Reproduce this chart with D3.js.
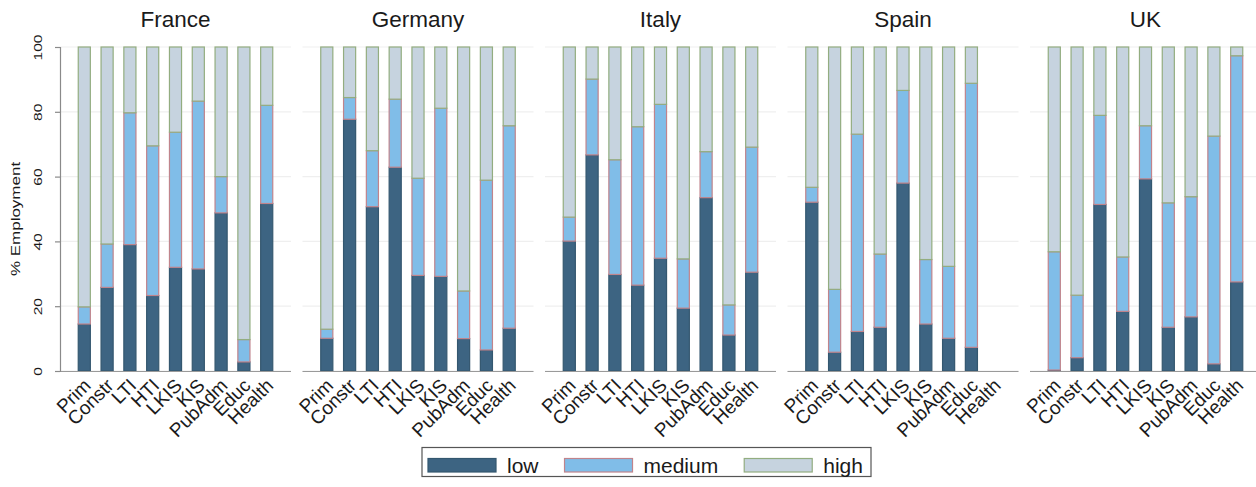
<!DOCTYPE html>
<html>
<head>
<meta charset="utf-8">
<script src="https://cdn.jsdelivr.net/npm/d3@7"></script>
<style>
  html, body { margin: 0; padding: 0; background: #fff; }
  svg { display: block; }
  text { font-family: "Liberation Sans", Arial, sans-serif; fill: #1a1a1a; }
</style>
</head>
<body>
<svg id="chart" width="1256" height="487"></svg>
<script>
const categories = ["Prim", "Constr", "LTI", "HTI", "LKIS", "KIS", "PubAdm", "Educ", "Health"];
const countries = ["France", "Germany", "Italy", "Spain", "UK"];
const levels = ["low", "medium", "high"];
const yTicks = [0, 20, 40, 60, 80, 100];

const lowFrance    = [14.5, 25.8, 39.0, 23.3, 32.0, 31.5, 48.8, 2.8, 51.7];
const mediumFrance = [5.3, 13.4, 40.7, 46.2, 41.7, 51.8, 11.2, 6.9, 30.3];
const highFrance   = [80.2, 60.8, 20.3, 30.5, 26.3, 16.7, 40.0, 90.3, 18.0];

const lowGermany    = [10.1, 77.7, 50.7, 62.9, 29.5, 29.2, 10.0, 6.5, 13.2];
const mediumGermany = [2.8, 6.7, 17.3, 21.0, 30.0, 51.9, 14.7, 52.4, 62.5];
const highGermany   = [87.1, 15.6, 32.0, 16.1, 40.5, 18.9, 75.3, 41.1, 24.3];

const lowItaly    = [40.1, 66.7, 29.8, 26.5, 34.8, 19.4, 53.5, 11.1, 30.5];
const mediumItaly = [7.4, 23.4, 35.4, 48.9, 47.5, 15.2, 14.2, 9.3, 38.6];
const highItaly   = [52.5, 9.9, 34.8, 24.6, 17.7, 65.4, 32.3, 79.6, 30.9];

const lowSpain    = [52.1, 5.8, 12.2, 13.5, 58.0, 14.5, 10.1, 7.3, null];
const mediumSpain = [4.6, 19.4, 60.9, 22.6, 28.6, 19.9, 22.2, 81.5, null];
const highSpain   = [43.3, 74.8, 26.9, 63.9, 13.4, 65.6, 67.7, 11.2, null];

const lowUK    = [0.3, 4.1, 51.4, 18.4, 59.3, 13.5, 16.7, 2.2, 27.5];
const mediumUK = [36.5, 19.3, 27.5, 16.8, 16.4, 38.4, 37.1, 70.3, 69.8];
const highUK   = [63.2, 76.6, 21.1, 64.8, 24.3, 48.1, 46.2, 27.5, 2.7];

const seriesByCountry = {
  France:  [lowFrance, mediumFrance, highFrance],
  Germany: [lowGermany, mediumGermany, highGermany],
  Italy:   [lowItaly, mediumItaly, highItaly],
  Spain:   [lowSpain, mediumSpain, highSpain],
  UK:      [lowUK, mediumUK, highUK]
};

const fills   = { low: "#3d6482", medium: "#80bde8", high: "#c6d3df" };
const strokes = { low: "#34576f", medium: "#c0848c", high: "#93ad80" };

const svg = d3.select("#chart");

const plotTop = 47, plotBottom = 371;
const panelStart = 60, panelStep = 242.5, panelWidth = 231;

const y = d3.scaleLinear().domain([0, 100]).range([plotBottom, plotTop]);

countries.forEach((country, i) => {
  const x0 = panelStart + panelStep * i;
  const x = d3.scaleBand().domain(categories)
    .range([x0, x0 + panelWidth]).paddingInner(0.417).paddingOuter(0.774);

  const g = svg.append("g");

  // gridlines
  g.selectAll("line.grid").data(yTicks).join("line")
    .attr("x1", x0).attr("x2", x0 + panelWidth)
    .attr("y1", d => y(d)).attr("y2", d => y(d))
    .attr("stroke", "#efefef").attr("stroke-width", 1.2);

  // stacked bars
  const cols = seriesByCountry[country];
  const rows = categories.map((c, k) => {
    const r = { cat: c };
    levels.forEach((lv, j) => r[lv] = cols[j][k]);
    return r;
  }).filter(r => r.low != null);
  const stacked = d3.stack().keys(levels)(rows);
  stacked.forEach(layer => {
    g.selectAll(null).data(layer).join("rect")
      .attr("x", d => x(d.data.cat) + 0.6)
      .attr("width", x.bandwidth() - 1.2)
      .attr("y", d => y(d[1]))
      .attr("height", d => Math.max(0, y(d[0]) - y(d[1])))
      .attr("fill", fills[layer.key])
      .attr("stroke", strokes[layer.key])
      .attr("stroke-width", 1.2);
  });

  // x axis line
  g.append("line")
    .attr("x1", x0).attr("x2", x0 + panelWidth)
    .attr("y1", plotBottom + 0.5).attr("y2", plotBottom + 0.5)
    .attr("stroke", "#9a9a9a").attr("stroke-width", 1.2);

  // category labels
  g.selectAll("text.cat").data(categories).join("text")
    .attr("class", "cat")
    .attr("transform", d => `translate(${x(d) + x.bandwidth() / 2 + 3},${plotBottom + 11}) rotate(-45)`)
    .attr("text-anchor", "end")
    .attr("dy", "0.35em")
    .attr("font-size", 19)
    .text(d => d);

  // title
  g.append("text")
    .attr("x", x0 + panelWidth / 2).attr("y", 27)
    .attr("text-anchor", "middle")
    .attr("font-size", 22.5)
    .text(country);

  // y axis on first panel
  if (i === 0) {
    const ax = g.append("g").attr("transform", `translate(${x0},0)`)
      .call(d3.axisLeft(y).tickValues(yTicks).tickSize(5).tickFormat(d3.format("d")));
    ax.select(".domain").attr("stroke", "#8a8a8a").attr("stroke-width", 1.2);
    ax.selectAll(".tick line").attr("stroke", "#8a8a8a").attr("stroke-width", 1.2);
    ax.selectAll(".tick text")
      .attr("font-family", "Liberation Sans, Arial, sans-serif")
      .attr("font-size", 15.5)
      .attr("fill", "#1a1a1a")
      .attr("text-anchor", "middle")
      .attr("x", null).attr("dy", null)
      .attr("transform", "translate(-18.5,0) rotate(-90) scale(1,0.75)");
    g.append("text")
      .attr("transform", `translate(19.5,219) rotate(-90) scale(1,0.75)`)
      .attr("text-anchor", "middle")
      .attr("font-size", 17)
      .text("% Employment");
  }
});

// legend
const legend = svg.append("g");
legend.append("rect")
  .attr("x", 422).attr("y", 447.5).attr("width", 449).attr("height", 29)
  .attr("fill", "#fff").attr("stroke", "#555").attr("stroke-width", 1.2);
let lx = 428;
levels.forEach(lv => {
  legend.append("rect")
    .attr("x", lx).attr("y", 458.5).attr("width", 68).attr("height", 13.5)
    .attr("fill", fills[lv]).attr("stroke", strokes[lv]).attr("stroke-width", 1.2);
  const t = legend.append("text")
    .attr("x", lx + 79).attr("y", 473)
    .attr("font-size", 21)
    .text(lv);
  lx = lx + 79 + t.node().getComputedTextLength() + 26;
});
</script>
</body>
</html>
